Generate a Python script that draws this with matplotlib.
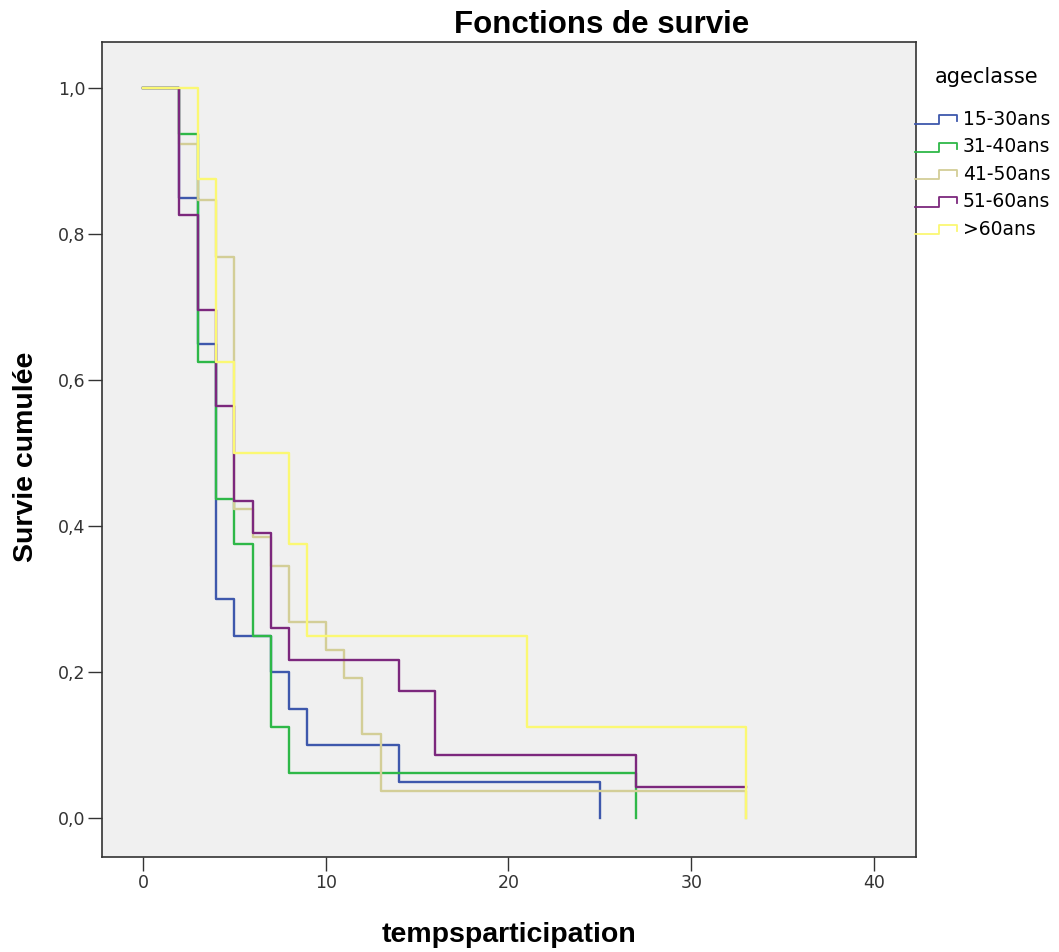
import matplotlib
matplotlib.use("Agg")
import matplotlib.pyplot as plt
from matplotlib.legend_handler import HandlerBase
from matplotlib.lines import Line2D

# courbes de survie (Kaplan-Meier) par classe d'age
groups = ['15-30ans', '31-40ans', '41-50ans', '51-60ans', '>60ans']
colors = ['#3E58AC', '#2EB848', '#D3CE97', '#7C287D', '#FBF873']

t_1530 = [0, 2, 3, 4, 5, 7, 8, 9, 14, 25]
s_1530 = [1.0, 0.85, 0.65, 0.30, 0.25, 0.20, 0.15, 0.10, 0.05, 0.0]
t_3140 = [0, 2, 3, 4, 5, 6, 7, 8, 27]
s_3140 = [1.0, 0.9375, 0.625, 0.4375, 0.375, 0.25, 0.125, 0.0625, 0.0]
t_4150 = [0, 2, 3, 4, 5, 6, 7, 8, 10, 11, 12, 13, 33]
s_4150 = [1.0, 0.923, 0.846, 0.769, 0.423, 0.385, 0.346, 0.269, 0.231, 0.192, 0.115, 0.038, 0.0]
t_5160 = [0, 2, 3, 4, 5, 6, 7, 8, 14, 16, 27, 33]
s_5160 = [1.0, 0.826, 0.696, 0.565, 0.435, 0.391, 0.261, 0.217, 0.174, 0.087, 0.043, 0.043]
t_60 = [0, 3, 4, 5, 8, 9, 21, 33]
s_60 = [1.0, 0.875, 0.625, 0.5, 0.375, 0.25, 0.125, 0.0]

times = [t_1530, t_3140, t_4150, t_5160, t_60]
survs = [s_1530, s_3140, s_4150, s_5160, s_60]

xticks = [0, 10, 20, 30, 40]
yticks = [0.0, 0.2, 0.4, 0.6, 0.8, 1.0]
ylabels = ['0,0', '0,2', '0,4', '0,6', '0,8', '1,0']


class StepHandler(HandlerBase):
    # petite marche d'escalier comme dans SPSS
    def create_artists(self, legend, orig_handle, xdescent, ydescent,
                       width, height, fontsize, trans):
        x0, x1 = -xdescent, -xdescent + width
        y0, y1 = -ydescent + 0.05 * height, -ydescent + 0.75 * height
        xm = x0 + 0.55 * width
        l = Line2D([x0, xm, xm, x1 - 1, x1 - 1], [y0, y0, y1, y1, y1 - 0.45 * height],
                   color=orig_handle.get_color(), lw=1.3, transform=trans)
        return [l]


fig = plt.figure(figsize=(10.59, 9.52), dpi=100)
ax = fig.add_axes([102 / 1059, 1 - 857 / 952, 814 / 1059, 815 / 952])
ax.set_facecolor('#F0F0F0')

handles = []
for i in range(len(groups)):
    h, = ax.step(times[i], survs[i], where='post', color=colors[i], lw=1.7,
                 zorder=2 + i, label=groups[i])
    handles.append(h)

ax.set_xlim(-2.24, 42.3)
ax.set_ylim(-0.053, 1.063)
ax.set_xticks(xticks)
ax.set_xticklabels([str(v) for v in xticks], fontsize=12.5, color='#333333')
ax.set_yticks(yticks)
ax.set_yticklabels(ylabels, fontsize=12.5, color='#333333')
ax.tick_params(direction='out', length=10, width=1, pad=2, color='#333333')
for sp in ax.spines.values():
    sp.set_linewidth(1.2)
    sp.set_color('#333333')

lab_font = 'Liberation Sans'
fig.text(602 / 1059, 1 - 33 / 952, 'Fonctions de survie', ha='center', va='baseline',
         fontsize=22.5, fontweight='bold', family=lab_font)
fig.text(509 / 1059, 1 - 942 / 952, 'tempsparticipation', ha='center', va='baseline',
         fontsize=20.5, fontweight='bold', family=lab_font)
fig.text(26 / 1059, 1 - 457 / 952, 'Survie cumulée', ha='center', va='center',
         rotation=90, fontsize=20.5, fontweight='bold', family=lab_font)

# titre de la légende
fig.text(987 / 1059, 1 - 77 / 952, 'ageclasse', ha='center', va='center', fontsize=15)
leg = fig.legend(handles, groups, loc='upper left',
                 bbox_to_anchor=(915 / 1059, 1 - 110 / 952), frameon=False,
                 handler_map={Line2D: StepHandler()}, fontsize=13.5,
                 handlelength=2.3, handletextpad=0.25, labelspacing=0.45,
                 borderaxespad=0, borderpad=0)

fig.savefig('out.png', dpi=100)
